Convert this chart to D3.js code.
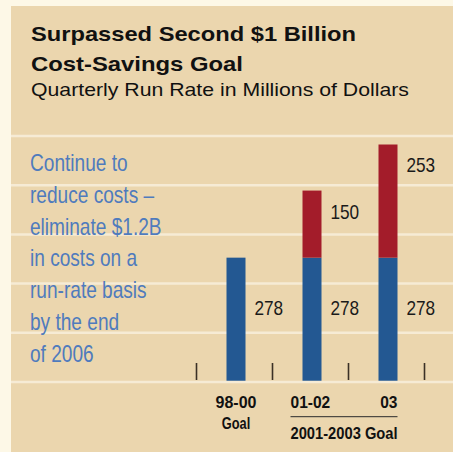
<!DOCTYPE html>
<html>
<head>
<meta charset="utf-8">
<script src="https://cdn.jsdelivr.net/npm/d3@7"></script>
<style>
  html, body { margin: 0; padding: 0; background: #fdf8e7; }
  svg { display: block; }
</style>
</head>
<body>
<svg id="chart" width="453" height="452"></svg>
<script>
// Quarterly run rate, millions of dollars
const categories = ["98-00", "01-02", "03"];
const baseSavings = [278, 278, 278];
const addedSavings = [0, 150, 253];
const gridValues = [0, 110, 220, 330, 440, 550];
const noteLines = [
  "Continue to",
  "reduce costs –",
  "eliminate $1.2B",
  "in costs on a",
  "run-rate basis",
  "by the end",
  "of 2006"
];

const W = 453, H = 452;
const svg = d3.select("#chart");

const colors = {
  panel: "#ebd6ae",
  grid: "#f6ebd5",
  blue: "#235892",
  red: "#a31c2a",
  note: "#4f7bbd",
  ink: "#111111",
  tick: "#3b3126"
};
const sans = "'Liberation Sans', Arial, Helvetica, sans-serif";

// condensed text helper: horizontal squeeze around the anchor point
function squeezed(g, xPos, yPos, sx) {
  return g.append("text").attr("x", 0).attr("y", 0)
    .attr("transform", `translate(${xPos},${yPos}) scale(${sx},1)`);
}

// panel
svg.append("rect").attr("x", 11).attr("y", 6).attr("width", W - 11).attr("height", H - 6)
  .attr("fill", colors.panel);

// title block
const head = svg.append("g").attr("font-family", sans).attr("fill", colors.ink);
head.append("text").attr("x", 31).attr("y", 41)
  .attr("font-weight", "bold").attr("font-size", 20.5)
  .attr("textLength", 325).attr("lengthAdjust", "spacingAndGlyphs")
  .text("Surpassed Second $1 Billion");
head.append("text").attr("x", 31).attr("y", 71)
  .attr("font-weight", "bold").attr("font-size", 20.5)
  .attr("textLength", 212).attr("lengthAdjust", "spacingAndGlyphs")
  .text("Cost-Savings Goal");
head.append("text").attr("x", 31).attr("y", 96)
  .attr("font-size", 18.5)
  .attr("textLength", 378).attr("lengthAdjust", "spacingAndGlyphs")
  .text("Quarterly Run Rate in Millions of Dollars");

// scales
const x = d3.scaleBand().domain(categories).range([198, 426]).paddingInner(0).paddingOuter(0);
const y = d3.scaleLinear().domain([0, 550]).range([382, 136]);
const barW = 19;
const cx = c => x(c) + x.bandwidth() / 2;

// gridlines (zero line drawn later, on top of the bars)
svg.append("g").selectAll("line")
  .data(gridValues.filter(v => v !== 0))
  .join("line")
  .attr("x1", 11).attr("x2", W)
  .attr("y1", d => y(d)).attr("y2", d => y(d))
  .attr("stroke", colors.grid).attr("stroke-width", 2.5);

// side note
const note = svg.append("g").attr("font-family", sans).attr("font-size", 23)
  .attr("fill", colors.note);
noteLines.forEach((t, i) => squeezed(note, 30, 171 + i * 31.8, 0.83).text(t));

// stacked bars
const rows = categories.map((c, i) => ({ cat: c, base: baseSavings[i], added: addedSavings[i] }));
const bars = svg.append("g");
bars.selectAll("rect.base")
  .data(rows).join("rect").attr("class", "base")
  .attr("x", d => cx(d.cat) - barW / 2)
  .attr("width", barW)
  .attr("y", d => y(d.base))
  .attr("height", d => y(0) - y(d.base))
  .attr("fill", colors.blue);
bars.selectAll("rect.added")
  .data(rows.filter(d => d.added > 0)).join("rect").attr("class", "added")
  .attr("x", d => cx(d.cat) - barW / 2)
  .attr("width", barW)
  .attr("y", d => y(d.base + d.added))
  .attr("height", d => y(d.base) - y(d.base + d.added))
  .attr("fill", colors.red);

// value labels, set beside each segment a little below its top
const lab = svg.append("g")
  .attr("font-family", sans).attr("font-size", 20).attr("fill", "#1a1a1a");
rows.forEach(d => {
  squeezed(lab, cx(d.cat) + barW / 2 + 9, y(d.base) + 57, 0.86).text(d.base);
  if (d.added > 0) {
    squeezed(lab, cx(d.cat) + barW / 2 + 9, y(d.base + d.added) + 28, 0.86).text(d.added);
  }
});

// zero line
svg.append("line").attr("x1", 11).attr("x2", W)
  .attr("y1", y(0)).attr("y2", y(0))
  .attr("stroke", colors.grid).attr("stroke-width", 2.5);

// category separators
const bounds = categories.map(c => x(c)).concat([x(categories[categories.length - 1]) + x.bandwidth()]);
svg.append("g").selectAll("line")
  .data(bounds).join("line")
  .attr("x1", d => d - 1.5).attr("x2", d => d - 1.5)
  .attr("y1", 363).attr("y2", 380)
  .attr("stroke", colors.tick).attr("stroke-width", 1.6);

// category labels
const catG = svg.append("g").attr("font-family", sans).attr("font-weight", "bold")
  .attr("font-size", 16).attr("fill", colors.ink);
squeezed(catG, cx(categories[0]), 408, 1).attr("text-anchor", "middle").text(categories[0]);
squeezed(catG, cx(categories[0]), 429, 0.8).attr("text-anchor", "middle").text("Goal");
const gx0 = cx(categories[1]) - barW / 2 - 12;
const gx1 = cx(categories[2]) + barW / 2;
squeezed(catG, gx0, 408, 0.97).text(categories[1]);
squeezed(catG, gx1, 408, 0.97).attr("text-anchor", "end").text(categories[2]);
svg.append("line").attr("x1", gx0).attr("x2", gx1).attr("y1", 416.7).attr("y2", 416.7)
  .attr("stroke", "#2a2a2a").attr("stroke-width", 1);
squeezed(catG, gx0, 438.5, 0.92).text("2001-2003 Goal");
</script>
</body>
</html>
